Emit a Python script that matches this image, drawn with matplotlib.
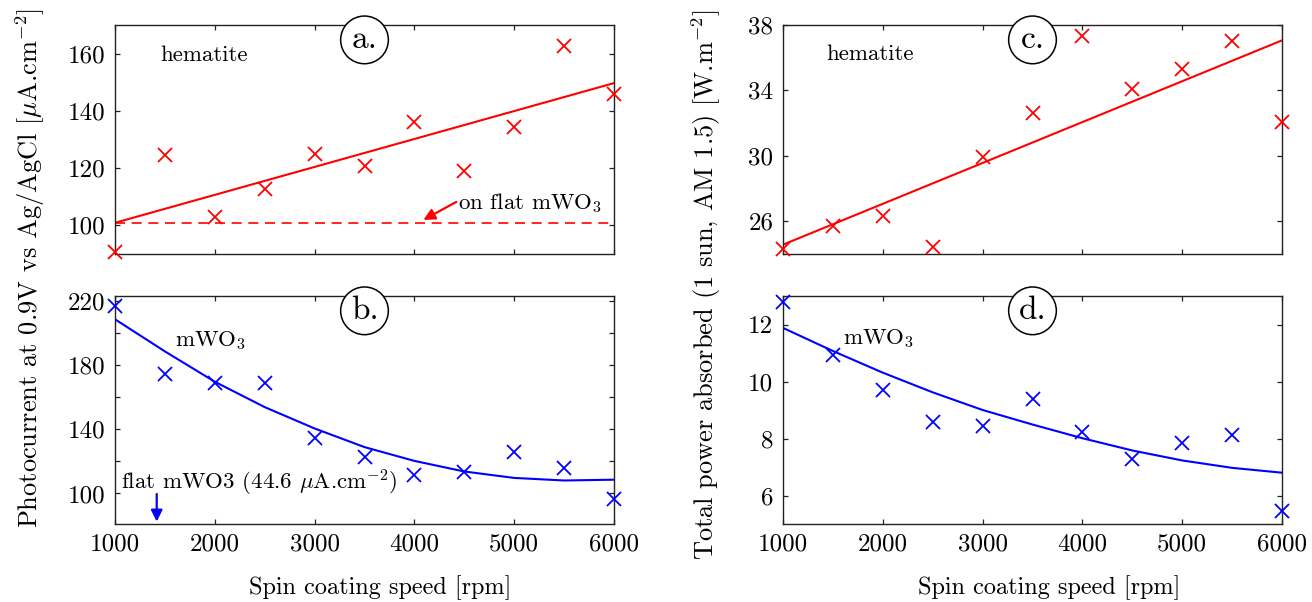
import matplotlib
matplotlib.use('Agg')
import matplotlib.pyplot as plt

plt.rcParams['font.family'] = ['cmr10', 'DejaVu Serif']
plt.rcParams['mathtext.fontset'] = 'cm'
plt.rcParams['axes.unicode_minus'] = False

# spin coating speeds [rpm]
speed = [1000, 1500, 2000, 2500, 3000, 3500, 4000, 4500, 5000, 5500, 6000]
fit_x = [1000, 6000]

# a. photocurrent, hematite
photo_hem = [90.8, 124.5, 103.0, 112.6, 124.9, 120.9, 136.0, 119.0, 134.4, 162.6, 145.9]
photo_hem_fit = [100.9, 149.7]
photo_flat = 100.9

# b. photocurrent, mWO3
photo_wo3 = [216.8, 174.6, 168.6, 168.6, 134.7, 122.7, 111.8, 113.6, 125.8, 115.8, 96.3]
photo_wo3_fit = [208.5, 188.5, 169.6, 153.8, 140.5, 128.9, 120.3, 113.7, 109.7, 108.1, 108.6]

# c. absorbed power, hematite
power_hem = [24.3, 25.74, 26.35, 24.43, 29.9, 32.6, 37.3, 34.09, 35.33, 37.0, 32.05]
power_hem_fit = [24.57, 37.06]

# d. absorbed power, mWO3
power_wo3 = [12.79, 10.93, 9.71, 8.59, 8.43, 9.38, 8.22, 7.29, 7.84, 8.12, 5.47]
power_wo3_fit = [11.88, 11.07, 10.31, 9.62, 9.0, 8.49, 8.01, 7.58, 7.23, 6.97, 6.80]

xticks = [1000, 2000, 3000, 4000, 5000, 6000]

MU = r'$\mu$'  # cmr10 has no usable micro sign

fig = plt.figure(figsize=(13.12, 6.02), dpi=100)
W, H = 1312.0, 602.0

def make_ax(x0, x1, y0, y1):
    ax = fig.add_axes([x0 / W, 1 - y1 / H, (x1 - x0) / W, (y1 - y0) / H])
    ax.set_xlim(1000, 6000)
    ax.set_xticks(xticks)
    ax.tick_params(direction='in', top=True, right=True, length=3.5, width=0.9,
                   labelsize=18, pad=7, color='#222222')
    for s in ax.spines.values():
        s.set_linewidth(1.0)
        s.set_color('#222222')
    return ax

def label_circle(ax, txt):
    ax.text(0.5, 0.935, txt, transform=ax.transAxes, ha='center', va='center',
            fontsize=24, zorder=10,
            bbox=dict(boxstyle='circle,pad=0.28', fc='white', ec='black', lw=1.1))

mk = dict(ls='none', marker='x', ms=10, mew=1.3, clip_on=False, zorder=5)
txt_size = 16.5

# a.
ax_a = make_ax(115, 614, 25, 254)
ax_a.plot(speed, photo_hem, color='red', **mk)
ax_a.plot(fit_x, photo_hem_fit, color='red', lw=1.5)
ax_a.plot(fit_x, [photo_flat, photo_flat], color='red', lw=1.2, ls=(0, (6, 4)))
ax_a.set_ylim(90, 170)
ax_a.set_yticks([100, 120, 140, 160])
ax_a.set_xticklabels([])
ax_a.text(1450, 159.5, 'hematite', fontsize=txt_size, va='center')
ax_a.annotate('', xy=(4090, 101.9), xytext=(4420, 108.2),
              arrowprops=dict(arrowstyle='-|>', color='red', lw=1.6, mutation_scale=17,
                              shrinkA=0, shrinkB=0))
ax_a.text(4440, 107.8, 'on flat mWO$_3$', fontsize=txt_size, va='center')
label_circle(ax_a, 'a.')

# b.
ax_b = make_ax(115, 614, 296, 524)
ax_b.plot(speed, photo_wo3, color='blue', **mk)
ax_b.plot(speed, photo_wo3_fit, color='blue', lw=1.5)
ax_b.set_ylim(81, 223)
ax_b.set_yticks([100, 120, 140, 160, 180, 200, 220])
ax_b.set_yticklabels(['100', '', '140', '', '180', '', '220'])
ax_b.set_xticklabels([str(v) for v in xticks])
ax_b.text(1600, 195.5, 'mWO$_3$', fontsize=txt_size, va='center')
ax_b.text(1065, 106.5, 'flat mWO3 (44.6 ' + MU + 'A.cm$^{-2}$)', fontsize=txt_size, va='center')
ax_b.annotate('', xy=(1418, 82.5), xytext=(1418, 99.7),
              arrowprops=dict(arrowstyle='-|>', color='blue', lw=1.6, mutation_scale=17,
                              shrinkA=0, shrinkB=0))
label_circle(ax_b, 'b.')

# c.
ax_c = make_ax(783, 1282, 25, 254)
ax_c.plot(speed, power_hem, color='red', **mk)
ax_c.plot(fit_x, power_hem_fit, color='red', lw=1.5)
ax_c.set_ylim(24, 38)
ax_c.set_yticks([26, 30, 34, 38])
ax_c.set_xticklabels([])
ax_c.text(1430, 36.2, 'hematite', fontsize=txt_size, va='center')
label_circle(ax_c, 'c.')

# d.
ax_d = make_ax(783, 1282, 296, 524)
ax_d.plot(speed, power_wo3, color='blue', **mk)
ax_d.plot(speed, power_wo3_fit, color='blue', lw=1.5)
ax_d.set_ylim(5, 13)
ax_d.set_yticks([6, 8, 10, 12])
ax_d.set_xticklabels([str(v) for v in xticks])
ax_d.text(1600, 11.5, 'mWO$_3$', fontsize=txt_size, va='center')
label_circle(ax_d, 'd.')

# shared labels
fig.text(30 / W, 1 - 268 / H, 'Photocurrent at 0.9V vs Ag/AgCl [' + MU + 'A.cm$^{-2}$]',
         rotation=90, ha='center', va='center', fontsize=19)
fig.text(706 / W, 1 - 285 / H, 'Total power absorbed (1 sun, AM 1.5) [W.m$^{-2}$]',
         rotation=90, ha='center', va='center', fontsize=19)
fig.text(380 / W, 1 - 588 / H, 'Spin coating speed [rpm]', ha='center', va='center', fontsize=17.5)
fig.text(1049 / W, 1 - 588 / H, 'Spin coating speed [rpm]', ha='center', va='center', fontsize=17.5)

fig.savefig('out.png', dpi=100)
